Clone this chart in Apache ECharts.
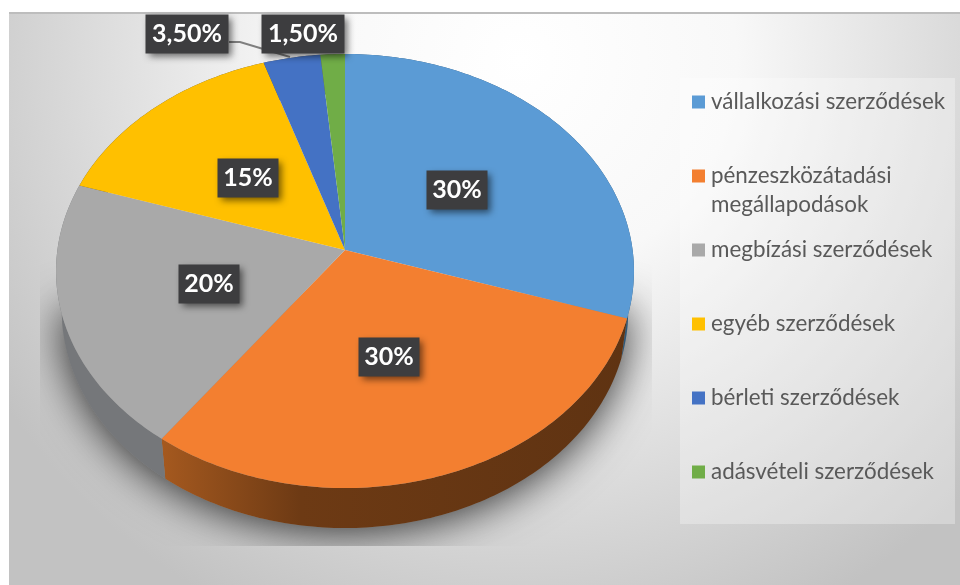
<!DOCTYPE html>
<html>
<head>
<meta charset="utf-8">
<title>Szerződések megoszlása</title>
<script src="https://cdn.jsdelivr.net/npm/echarts@6/dist/echarts.min.js"></script>
<style>
html, body { margin: 0; padding: 0; background: #fff; }
#chart { width: 960px; height: 585px; }
</style>
</head>
<body>
<div id="chart"></div>
<script>
const categories = ['vállalkozási szerződések', 'pénzeszközátadási megállapodások', 'megbízási szerződések', 'egyéb szerződések', 'bérleti szerződések', 'adásvételi szerződések']
const values = [30, 30, 20, 15, 3.5, 1.5]
const valueLabels = ['30%', '30%', '20%', '15%', '3,50%', '1,50%']

const colors = ['#5b9bd5', '#f37f30', '#a9a9a9', '#ffc000', '#4472c4', '#70ad47']
const labelCenters = [[457, 190], [389, 357], [209, 284], [248, 178], [187, 34], [303, 34]]
const FONT = 'Lato, "Open Sans", sans-serif'
const total = values.reduce((a, b) => a + b, 0)

// perspective of the tilted disc
const apexX = 345
const apexY = 250
const radX = 287.6
const radY = 215
const persp = 0.0968
const wallDepth = 40
const wallShrink = 0.98

function rimPoint (deg, yShift, shrink) {
  const t = deg * Math.PI / 180
  const x = Math.sin(t)
  const y = -Math.cos(t)
  const d = 1 - persp * y
  return [apexX + radX * (shrink || 1) * x / d, apexY + radY * y / d + (yShift || 0)]
}

function arc (from, to, yShift, shrink) {
  const pts = []
  const n = Math.max(2, Math.ceil(to - from))
  for (let i = 0; i <= n; i++) {
    pts.push(rimPoint(from + (to - from) * i / n, yShift, shrink))
  }
  return pts
}

function wallFill (i) {
  if (i === 1) {
    return new echarts.graphic.LinearGradient(0, 0, 1, 0, [
      { offset: 0, color: '#a5591f' },
      { offset: 0.3, color: '#6d3a14' },
      { offset: 1, color: '#5f3312' }
    ])
  }
  if (i === 2) return '#75777a'
  if (i === 0) return '#2f5878'
  return '#555'
}

function sliceItem (i) {
  const before = values.slice(0, i).reduce((a, b) => a + b, 0)
  const from = before / total * 360
  const to = (before + values[i]) / total * 360
  const top = arc(from, to)
  const low = arc(from, to, wallDepth, wallShrink).reverse()
  const c = labelCenters[i]
  const text = valueLabels[i]
  const w = text.length > 3 ? 83 : 61
  const children = [
    { type: 'polygon', z2: 1, shape: { points: top.concat(low) }, style: { fill: wallFill(i) } },
    { type: 'polygon', z2: 2, shape: { points: [[apexX, apexY]].concat(top) }, style: { fill: colors[i] } },
    {
      type: 'rect',
      z2: 4,
      shape: { x: c[0] - w / 2, y: c[1] - 19.5, width: w, height: 39 },
      style: { fill: '#3d3d3f', shadowBlur: 7, shadowOffsetX: 3, shadowOffsetY: 3, shadowColor: 'rgba(0,0,0,0.55)' }
    },
    {
      type: 'text',
      z2: 5,
      style: {
        x: c[0],
        y: c[1],
        text: text,
        align: 'center',
        verticalAlign: 'middle',
        fill: '#fff',
        font: 'bold 25px ' + FONT
      }
    }
  ]
  if (i === 0) {
    // soft shadow under the lower half of the disc, cut off by the plot rectangle
    const outline = arc(94, 266, wallDepth, wallShrink)
    children.push({
      type: 'polygon',
      z2: 0,
      shape: { points: outline },
      clipPath: { type: 'rect', shape: { x: 40, y: 200, width: 612, height: 346 } },
      style: { fill: '#8a8a8a', shadowBlur: 44, shadowOffsetY: 4, shadowColor: 'rgba(0,0,0,0.8)' }
    })
  }
  if (i === 4) {
    // leader line of the 3,50% label
    children.push({
      type: 'polyline',
      z2: 3,
      shape: { points: [[229, 42], [240, 42], [290, 57]] },
      style: { stroke: '#7f7f7f', lineWidth: 2, fill: null }
    })
  }
  return { type: 'group', children: children }
}

const legendNames = categories.map((name, i) => ({
  type: 'plain',
  data: [name],
  left: 692,
  top: 102 + 74 * i - 11,
  itemWidth: 13,
  itemHeight: 13,
  itemGap: 0,
  padding: 0,
  icon: 'rect',
  selectedMode: false,
  formatter: n => n.split(' ')[0] + (i === 1 ? '' : ' ' + n.split(' ')[1]),
  textStyle: { color: '#595959', fontFamily: FONT, fontSize: 22.4, padding: [0, 0, 0, 1], height: 22, lineHeight: 22 }
}))

const myChart = echarts.init(document.getElementById('chart'))
myChart.setOption({
  backgroundColor: '#fff',
  animation: false,
  color: colors,
  legend: legendNames,
  graphic: [
    {
      type: 'rect',
      z: -10,
      shape: { x: 9, y: 13, width: 951, height: 572 },
      style: {
        fill: new echarts.graphic.RadialGradient(520, 60, 620, [
          { offset: 0, color: '#ffffff' },
          { offset: 0.35, color: '#f8f8f8' },
          { offset: 1, color: '#c2c2c2' }
        ], true)
      }
    },
    { type: 'rect', z: -10, shape: { x: 9, y: 12, width: 951, height: 2 }, style: { fill: '#bdbdbd' } },
    { type: 'rect', z: -9, shape: { x: 680, y: 78, width: 275, height: 446 }, style: { fill: 'rgba(255,255,255,0.3)' } },
    {
      type: 'text',
      z: 5,
      style: {
        x: 711,
        y: 205,
        text: categories[1].split(' ')[1],
        verticalAlign: 'middle',
        fill: '#595959',
        font: '22.4px ' + FONT
      }
    }
  ],
  series: categories.map((name, i) => ({
    type: 'custom',
    name: name,
    coordinateSystem: 'none',
    silent: true,
    itemStyle: { color: colors[i] },
    data: [[values[i]]],
    renderItem: () => sliceItem(i)
  }))
})
</script>
</body>
</html>
